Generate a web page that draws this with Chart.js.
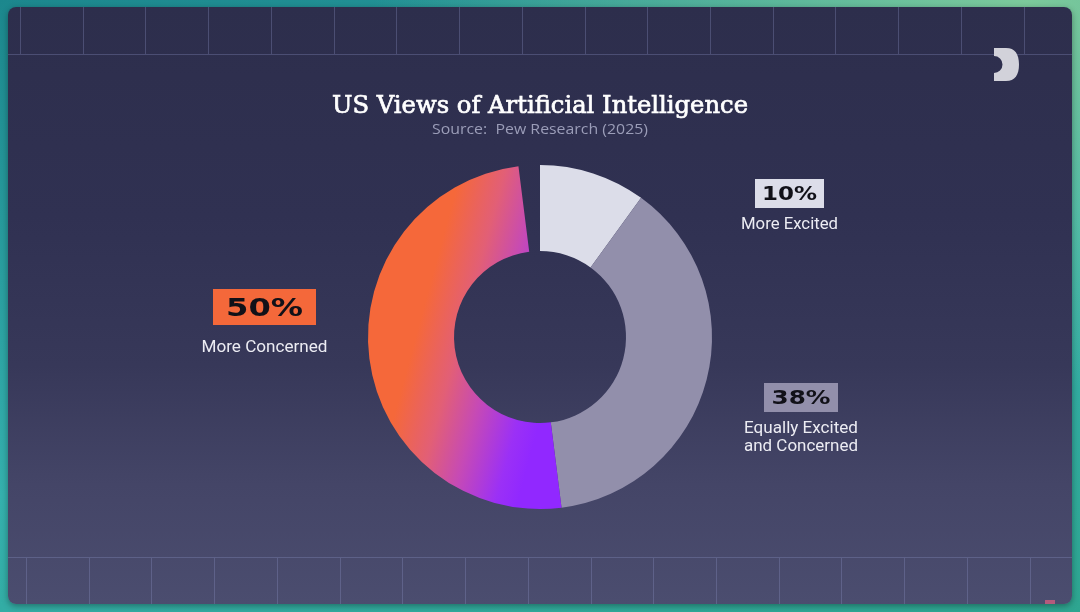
<!DOCTYPE html>
<html>
<head>
<meta charset="utf-8">
<script src="https://cdn.jsdelivr.net/npm/chart.js@4.4.1/dist/chart.umd.min.js"></script>
<style>
  html, body { margin: 0; padding: 0; width: 1080px; height: 612px; overflow: hidden; }
  body {
    background:
      radial-gradient(ellipse at 95% 0%, #7cc99b 0%, rgba(124,201,155,0) 45%),
      linear-gradient(165deg, #1c878d 0%, #35b0ad 55%, #2ea590 100%);
    position: relative;
  }
  #panel {
    position: absolute; left: 8px; top: 7px; width: 1064px; height: 597px;
    border-radius: 8px;
    background: linear-gradient(180deg, #2d2e4c 0%, #303152 35%, #373859 60%, #444567 80%, #4b4d6f 100%);
    box-shadow: 0 2px 6px rgba(0,0,0,0.35);
  }
  canvas { position: absolute; left: 0; top: 0; }
</style>
</head>
<body>
<div id="panel"></div>
<canvas id="aiChart" width="1080" height="612"></canvas>
<script>
// data
const categories = ['More Excited', 'Equally Excited and Concerned', 'More Concerned'];
const shares = [10, 38, 50];
const shareLabels = ['10%', '38%', '50%'];
const labelLines = [['More Excited'], ['Equally Excited', 'and Concerned'], ['More Concerned']];

// colours per slice
const sliceColors = ['#dcdde9', '#928fab', null]; // last one is a gradient
const boxColors = ['#dcdde9', '#928fab', '#f4683a'];

// where the callouts sit (centre x, box top, box width, text widths)
const calloutLayout = [
    { x: 789.5, top: 179, boxW: 69, boxH: 29, pctW: 55, lineW: [97] },
    { x: 801, top: 383, boxW: 74, boxH: 29, pctW: 59, lineW: [114, 114] },
    { x: 264.5, top: 289, boxW: 103, boxH: 36, pctW: 77, lineW: [126] }
];

const total = shares.reduce((a, b) => a + b, 0);

// draws text squeezed/stretched to a given width
function drawFit(ctx, text, cx, baseline, font, width, color, stroke) {
    ctx.save();
    ctx.font = font;
    ctx.fillStyle = color;
    ctx.textAlign = 'center';
    ctx.textBaseline = 'alphabetic';
    const w = ctx.measureText(text).width;
    ctx.translate(cx, baseline);
    ctx.scale(width / w, 1);
    ctx.fillText(text, 0, 0);
    if (stroke) {
        ctx.strokeStyle = color;
        ctx.lineWidth = stroke;
        ctx.strokeText(text, 0, 0);
    }
    ctx.restore();
}

function concernGradient(context) {
    const chart = context.chart;
    const area = chart.chartArea;
    if (!area) return '#f4683a';
    const cx = (area.left + area.right) / 2;
    const cy = (area.top + area.bottom) / 2;
    const dx = 0.965, dy = 0.263;
    const g = chart.ctx.createLinearGradient(cx - 120 * dx, cy - 120 * dy, cx + 22 * dx, cy + 22 * dy);
    g.addColorStop(0, '#f5683a');
    g.addColorStop(0.3, '#e25f76');
    g.addColorStop(0.55, '#c64ab5');
    g.addColorStop(0.85, '#9b30f6');
    g.addColorStop(1, '#9128ff');
    return g;
}

// background grid, logo, titles
const backdrop = {
    id: 'backdrop',
    beforeDraw(chart) {
        const ctx = chart.ctx;
        ctx.save();
        ctx.beginPath();
        ctx.rect(8, 7, 1064, 597);
        ctx.clip();
        ctx.strokeStyle = 'rgba(140,145,195,0.32)';
        ctx.lineWidth = 1;
        ctx.beginPath();
        ctx.moveTo(8, 54.5); ctx.lineTo(1072, 54.5);
        ctx.moveTo(8, 557.5); ctx.lineTo(1072, 557.5);
        for (let k = 0; k < 17; k++) {
            const xt = Math.round(20 + k * 62.73) + 0.5;
            ctx.moveTo(xt, 7); ctx.lineTo(xt, 54);
            const xb = Math.round(26 + k * 62.73) + 0.5;
            ctx.moveTo(xb, 558); ctx.lineTo(xb, 604);
        }
        ctx.stroke();

        // logo
        ctx.fillStyle = '#d2d2da';
        ctx.beginPath();
        ctx.moveTo(994, 48);
        ctx.lineTo(1006, 48);
        ctx.bezierCurveTo(1015, 48, 1019, 54, 1019, 64.5);
        ctx.bezierCurveTo(1019, 75, 1015, 81, 1006, 81);
        ctx.lineTo(994, 81);
        ctx.lineTo(994, 73);
        ctx.arc(994, 64.5, 8.5, Math.PI / 2, -Math.PI / 2, true);
        ctx.closePath();
        ctx.fill();

        // tiny corner mark
        ctx.fillStyle = '#b45a7c';
        ctx.fillRect(1045, 600, 10, 4);
        ctx.restore();

        drawFit(ctx, 'US Views of Artificial Intelligence', 540, 113, '24px "DejaVu Serif"', 416, '#ffffff', 0.7);
        drawFit(ctx, 'Source:  Pew Research (2025)', 540, 134, '14px "Open Sans"', 216, '#9b9db8');
    }
};

// percentage boxes and captions
const callouts = {
    id: 'callouts',
    afterDraw(chart) {
        const ctx = chart.ctx;
        shares.forEach((v, i) => {
            const c = calloutLayout[i];
            ctx.fillStyle = boxColors[i];
            ctx.fillRect(c.x - c.boxW / 2, c.top, c.boxW, c.boxH);
            const big = i === 2 ? 24 : 19;
            drawFit(ctx, shareLabels[i], c.x, c.top + c.boxH / 2 + big * 0.36, 'bold ' + big + 'px "DejaVu Sans"', c.pctW, '#111118');
            labelLines[i].forEach((line, j) => {
                const base = c.top + c.boxH + (i === 2 ? 27 : 21) + j * 18;
                drawFit(ctx, line, c.x, base, '16px Roboto', c.lineW[j], '#ececf3');
            });
        });
    }
};

const ctx = document.getElementById('aiChart').getContext('2d');
new Chart(ctx, {
    type: 'doughnut',
    data: {
        labels: categories,
        datasets: [{
            data: shares,
            backgroundColor: function (context) {
                const c = sliceColors[context.dataIndex];
                return c ? c : concernGradient(context);
            },
            borderWidth: 0,
            hoverOffset: 0
        }]
    },
    options: {
        responsive: false,
        animation: false,
        cutout: '50%',
        rotation: 0,
        circumference: total / 100 * 360, // leftover share stays empty at the top
        layout: {
            padding: { top: 165, bottom: 103, left: 0, right: 0 }
        },
        plugins: {
            legend: { display: false },
            tooltip: { enabled: false }
        }
    },
    plugins: [backdrop, callouts]
});
</script>
</body>
</html>
